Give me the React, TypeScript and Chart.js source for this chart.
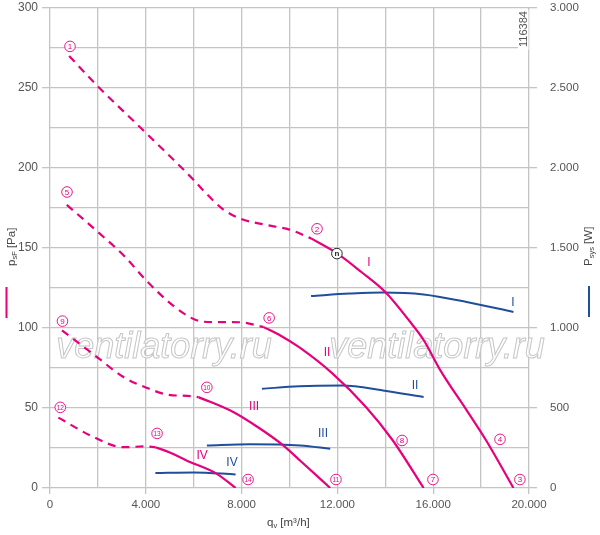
import { useEffect, useRef } from 'react';
import { Chart, registerables } from 'chart.js';

Chart.register(...registerables);

const PINK = '#e5007d';
const BLUE = '#1f4e9a';
const GRID = '#c4c4c4';
const TEXT = '#555';

// p_sF [Pa] over q_v [m³/h]; dashed part is outside the recommended range
const pI_dash = [[800, 270], [2000, 251], [4000, 222], [6000, 192.5], [6400, 186], [7200, 174.5], [7900, 168.6], [9000, 164.5], [10000, 161.5], [10900, 156]];
const pI_solid = [[10900, 156], [12000, 146.5], [13000, 135], [14000, 122.5], [15000, 104.5], [15600, 92.5], [16300, 73.5], [17400, 48.5], [18200, 30], [19350, 0]];
const pII_dash = [[700, 177], [2000, 160], [3100, 145], [4000, 130], [4900, 117], [5700, 108], [6250, 104.3], [6800, 103.7], [7900, 103.6], [8900, 100.7]];
const pII_solid = [[8900, 100.7], [9600, 95.5], [10400, 88], [11800, 71.5], [13200, 50.5], [14300, 30], [15600, 0]];
const pIII_dash = [[500, 98.5], [1950, 82], [3050, 69.5], [4150, 62], [4850, 58.5], [6000, 57.3], [6200, 56.8]];
const pIII_solid = [[6200, 56.8], [7650, 47.5], [8700, 37.8], [9750, 26.5], [10450, 17], [11700, 0]];
const pIV_dash = [[350, 44], [1800, 32], [3050, 25.5], [4000, 26], [4400, 25.5]];
const pIV_solid = [[4400, 25.5], [5000, 22.2], [5700, 17.2], [6950, 9], [7750, 0]];

// P_sys [W] over q_v [m³/h]
const wI = [[10900, 1200], [12500, 1215], [13900, 1222], [15600, 1210], [17400, 1163], [19350, 1100]];
const wII = [[8850, 620], [10400, 636], [12200, 640], [13900, 610], [15600, 569]];
const wIII = [[6550, 266], [8350, 274], [10450, 266], [11700, 245]];
const wIV = [[4400, 93], [6000, 97], [7750, 85]];

// circled point numbers [text, q_v, p]
const pointLabels: [string, number, number][] = [
  ['1', 835, 276], ['2', 11150, 162], ['3', 19620, 5.3], ['4', 18790, 30.4],
  ['5', 710, 185], ['6', 9150, 106.3], ['7', 15990, 5.3], ['8', 14700, 29.7],
  ['9', 520, 104.3], ['10', 6550, 62.9], ['11', 11940, 5.3], ['12', 430, 50.4],
  ['13', 4470, 34.1], ['14', 8270, 5.3],
];
const curveNames = ['I', 'II', 'III', 'IV'];
const pinkNamePos = [[13320, 141], [11570, 84.5], [8520, 51], [6350, 20.5]];
const blueNamePos = [[19330, 1160], [15240, 640], [11400, 340], [7600, 160]];

const fmt = (v: number) => String(v).replace(/\B(?=(\d{3})+(?!\d))/g, '.');
const pts = (a: number[][]) => a.map(([x, y]) => ({ x, y }));

const pink = (d: number[][], dashed: boolean) => ({
  data: pts(d), borderColor: PINK, borderWidth: 2.2, borderDash: dashed ? [8, 6] : [],
  showLine: true, pointRadius: 0, cubicInterpolationMode: 'monotone' as const, yAxisID: 'y',
});
const blue = (d: number[][]) => ({
  data: pts(d), borderColor: BLUE, borderWidth: 2, showLine: true, pointRadius: 0,
  cubicInterpolationMode: 'monotone' as const, yAxisID: 'y2',
});

const decor = {
  id: 'decor',
  beforeDatasetsDraw(chart: any) {
    const ctx = chart.ctx;
    ctx.save();
    ctx.font = 'italic 36px "Liberation Sans", Arial, sans-serif';
    ctx.textAlign = 'center';
    ctx.textBaseline = 'alphabetic';
    ctx.lineWidth = 1;
    ctx.strokeStyle = '#c6c6c6';
    ctx.fillStyle = 'rgba(255,255,255,0.75)';
    for (const cx of [164, 437]) {
      ctx.fillText('ventilatorry.ru', cx, 358);
      ctx.strokeText('ventilatorry.ru', cx, 358);
    }
    ctx.restore();
  },
  afterDatasetsDraw(chart: any) {
    const ctx = chart.ctx;
    const xs = chart.scales.x, ys = chart.scales.y, ws = chart.scales.y2;
    ctx.save();
    ctx.textAlign = 'center';
    ctx.textBaseline = 'middle';
    for (const [t, qx, py] of pointLabels) {
      const x = xs.getPixelForValue(qx), y = ys.getPixelForValue(py);
      ctx.beginPath();
      ctx.arc(x, y, 5.3, 0, Math.PI * 2);
      ctx.fillStyle = '#fff';
      ctx.fill();
      ctx.lineWidth = 0.9;
      ctx.strokeStyle = PINK;
      ctx.stroke();
      ctx.fillStyle = PINK;
      ctx.font = (t.length > 1 ? '6.5px' : '8px') + ' "Liberation Sans", Arial, sans-serif';
      ctx.fillText(t, x, y + 0.5);
    }
    // operating point marker
    {
      const x = xs.getPixelForValue(11980), y = ys.getPixelForValue(146.5);
      ctx.beginPath();
      ctx.arc(x, y, 5.3, 0, Math.PI * 2);
      ctx.fillStyle = '#fff';
      ctx.fill();
      ctx.lineWidth = 1;
      ctx.strokeStyle = '#222';
      ctx.stroke();
      ctx.fillStyle = '#222';
      ctx.font = 'bold 8px "Liberation Sans", Arial, sans-serif';
      ctx.fillText('n', x, y);
    }
    ctx.font = '12px "Liberation Sans", Arial, sans-serif';
    curveNames.forEach((n, i) => {
      ctx.fillStyle = PINK;
      ctx.fillText(n, xs.getPixelForValue(pinkNamePos[i][0]), ys.getPixelForValue(pinkNamePos[i][1]));
      ctx.fillStyle = BLUE;
      ctx.fillText(n, xs.getPixelForValue(blueNamePos[i][0]), ws.getPixelForValue(blueNamePos[i][1]));
    });
    // drawing number
    const a = chart.chartArea;
    ctx.fillStyle = '#fff';
    ctx.fillRect(a.right - 11, a.top + 2, 10.5, 40);
    ctx.translate(a.right - 5.5, a.top + 21);
    ctx.rotate(-Math.PI / 2);
    ctx.fillStyle = TEXT;
    ctx.font = '11px "Liberation Sans", Arial, sans-serif';
    ctx.fillText('116384', 0, 0);
    ctx.restore();
  },
  afterDraw(chart: any) {
    const ctx = chart.ctx;
    ctx.save();
    ctx.fillStyle = '#444';
    ctx.textBaseline = 'middle';
    ctx.textAlign = 'left';
    const sub = (main: string, s: string, rest: string, x: number, y: number) => {
      ctx.font = '11.5px "Liberation Sans", Arial, sans-serif';
      ctx.fillText(main, x, y);
      let w = ctx.measureText(main).width;
      ctx.font = '7.5px "Liberation Sans", Arial, sans-serif';
      ctx.fillText(s, x + w, y + 3);
      w += ctx.measureText(s).width;
      ctx.font = '11.5px "Liberation Sans", Arial, sans-serif';
      ctx.fillText(rest, x + w, y);
    };
    // left axis title
    ctx.save();
    ctx.translate(12, 266);
    ctx.rotate(-Math.PI / 2);
    sub('p', 'sF', ' [Pa]', 0, 0);
    ctx.restore();
    // right axis title
    ctx.save();
    ctx.translate(589, 266);
    ctx.rotate(-Math.PI / 2);
    sub('P', 'sys', ' [W]', 0, 0);
    ctx.restore();
    // bottom title
    sub('q', 'v', ' [m³/h]', 267, 523);
    // series key strokes
    ctx.lineWidth = 2;
    ctx.strokeStyle = PINK;
    ctx.beginPath();
    ctx.moveTo(6.5, 287);
    ctx.lineTo(6.5, 318);
    ctx.stroke();
    ctx.strokeStyle = BLUE;
    ctx.beginPath();
    ctx.moveTo(589, 286);
    ctx.lineTo(589, 317);
    ctx.stroke();
    ctx.restore();
  },
};

export default function App() {
  const ref = useRef<HTMLCanvasElement | null>(null);

  useEffect(() => {
    if (!ref.current) return;
    const tickFont = { family: '"Liberation Sans", Arial, sans-serif', size: 11.5 };
    const vFit = (w: number) => (s: any) => {
      s.width = w;
      s.paddingTop = 8;
      s.paddingBottom = 0;
    };
    const chart = new Chart(ref.current, {
      type: 'scatter',
      data: {
        datasets: [
          pink(pI_solid, false), pink(pI_dash, true),
          pink(pII_solid, false), pink(pII_dash, true),
          pink(pIII_solid, false), pink(pIII_dash, true),
          pink(pIV_solid, false), pink(pIV_dash, true),
          blue(wI), blue(wII), blue(wIII), blue(wIV),
        ] as any,
      },
      options: {
        animation: false,
        responsive: true,
        maintainAspectRatio: false,
        layout: { padding: 0 },
        plugins: { legend: { display: false }, tooltip: { enabled: false } },
        scales: {
          x: {
            type: 'linear', min: 0, max: 20000,
            border: { display: false },
            grid: {
              color: GRID, lineWidth: 1.3, tickLength: 6,
              tickColor: (c: any) => (c.tick && c.tick.value % 4000 === 0 ? GRID : 'transparent'),
            },
            ticks: {
              stepSize: 2000, color: TEXT, font: tickFont, padding: 4, maxRotation: 0, autoSkip: false,
              callback: (v: any) => (v % 4000 === 0 ? fmt(v) : ''),
            },
            afterFit: (s: any) => { s.height = 47; },
          },
          y: {
            position: 'left', min: 0, max: 300,
            border: { display: false },
            grid: {
              color: GRID, lineWidth: 1.3, tickLength: 8,
              tickColor: (c: any) => (c.tick && c.tick.value % 50 === 0 ? GRID : 'transparent'),
            },
            ticks: {
              stepSize: 25, color: TEXT, font: { ...tickFont, size: 12 }, padding: 4, autoSkip: false,
              callback: (v: any) => (v % 50 === 0 ? fmt(v) : ''),
            },
            afterFit: vFit(50),
          },
          y2: {
            position: 'right', min: 0, max: 3000,
            border: { display: false },
            grid: {
              drawOnChartArea: false, lineWidth: 1.3, tickLength: 8,
              tickColor: (c: any) => (c.tick && c.tick.value % 500 === 0 ? GRID : 'transparent'),
            },
            ticks: {
              stepSize: 250, color: TEXT, font: tickFont, padding: 13, autoSkip: false,
              callback: (v: any) => (v % 500 === 0 ? fmt(v) : ''),
            },
            afterFit: vFit(71),
          },
        },
      },
      plugins: [decor],
    });
    return () => chart.destroy();
  }, []);

  return (
    <div style={{ position: 'fixed', left: 0, top: 0, width: 600, height: 535, background: '#fff' }}>
      <canvas ref={ref} />
    </div>
  );
}
